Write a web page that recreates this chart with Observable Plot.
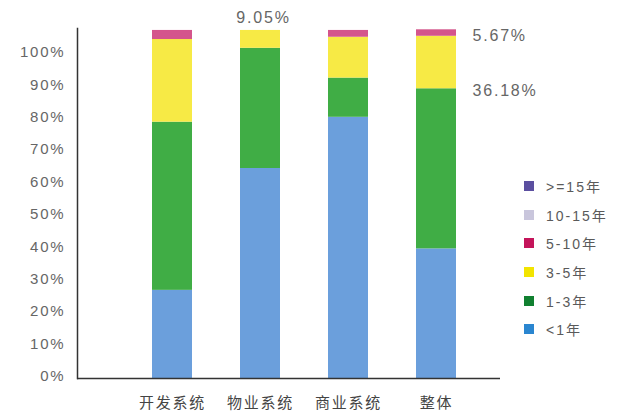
<!DOCTYPE html>
<html>
<head>
<meta charset="utf-8">
<script src="https://cdn.jsdelivr.net/npm/d3@7"></script>
<script src="https://cdn.jsdelivr.net/npm/@observablehq/plot@0.6"></script>
<style>
  body { margin: 0; background: #fff; }
  #wrap { position: relative; width: 631px; height: 418px; font-family: "Liberation Sans", "Noto Sans CJK SC", sans-serif; }
  #legend { position: absolute; left: 524px; top: 172px; color: #5a5a5a; font-size: 14px; letter-spacing: 2px; }
  #legend .item { display: flex; align-items: center; height: 28.6px; }
  #legend .sw { width: 10px; height: 10px; margin-right: 12px; }
</style>
</head>
<body>
<div id="wrap"></div>
<script>
const categories = ["开发系统", "物业系统", "商业系统", "整体"];
// stacked bottom to top
const seriesNames = ["<1年", "1-3年", "3-5年", "5-10年", "10-15年", ">=15年"];
const lessThan1 = [27.2, 64.8, 80.6, 40.0];
const y1to3 = [51.9, 37.1, 12.1, 49.4];
const y3to5 = [25.5, 5.5, 12.6, 16.2];
const y5to10 = [2.8, 0, 2.1, 2.0];
const y10to15 = [0, 0, 0, 0];
const ge15 = [0, 0, 0, 0];
const yTicks = [0, 10, 20, 30, 40, 50, 60, 70, 80, 90, 100];
const barColors = ["#6b9fdc", "#40ad45", "#f7ea45", "#d4558c", "#c9c6dc", "#5b4fa0"];
const legendColors = ["#2a86d0", "#118030", "#f2e400", "#c4145a", "#c9c6dc", "#5b4fa0"];
const annotations = [
  {category: "物业系统", upTo: 3, label: "9.05%", dx: 3, dy: -13, anchor: "middle"},
  {category: "整体", upTo: 2, label: "5.67%", dx: 36, dy: 0, anchor: "start"},
  {category: "整体", upTo: 1, label: "36.18%", dx: 36, dy: 2, anchor: "start"}
];

const seriesValues = [lessThan1, y1to3, y3to5, y5to10, y10to15, ge15];
const rows = [];
seriesNames.forEach((s, si) => {
  categories.forEach((c, ci) => rows.push({category: c, series: s, value: seriesValues[si][ci]}));
});
const annRows = annotations.map(a => {
  const ci = categories.indexOf(a.category);
  let top = 0;
  for (let si = 0; si <= a.upTo; si++) top += seriesValues[si][ci];
  return {...a, top};
});

const font = "'Liberation Sans', 'Noto Sans CJK SC', sans-serif";
const chart = Plot.plot({
  width: 631,
  height: 418,
  marginLeft: 77,
  marginRight: 131,
  marginTop: 28,
  marginBottom: 40,
  style: {fontFamily: font, color: "#555", background: "#fff", overflow: "visible"},
  x: {domain: categories, range: [106, 502], paddingInner: 0.55, paddingOuter: 0.5, axis: null},
  y: {domain: [0, 108], axis: null},
  color: {domain: seriesNames, range: barColors},
  marks: [
    Plot.barY(rows, {x: "category", y: "value", fill: "series", order: seriesNames}),
    Plot.axisY({ticks: yTicks, tickFormat: d => d + "%", tickSize: 0, tickPadding: 12, dy: -2, fontSize: 15, fill: "#666"}),
    Plot.axisX({tickSize: 0, tickPadding: 19, fontSize: 15, fill: "#444", label: null}),
    Plot.ruleY([0], {stroke: "#333", strokeWidth: 1.5}),
    Plot.frame({anchor: "left", stroke: "#333", strokeWidth: 1.5}),
    ...annRows.map(a => Plot.text([a], {x: "category", y: "top", text: "label", dx: a.dx, dy: a.dy, textAnchor: a.anchor, fontSize: 16, fill: "#666", clip: false}))
  ]
});
d3.select(chart).selectAll("text").style("letter-spacing", "1.8px");
document.getElementById("wrap").appendChild(chart);

const legend = document.createElement("div");
legend.id = "legend";
const order = seriesNames.map((s, i) => i).reverse();
order.forEach(i => {
  const item = document.createElement("div");
  item.className = "item";
  const sw = document.createElement("span");
  sw.className = "sw";
  sw.style.background = legendColors[i];
  const label = document.createElement("span");
  label.textContent = seriesNames[i];
  item.appendChild(sw);
  item.appendChild(label);
  legend.appendChild(item);
});
document.getElementById("wrap").appendChild(legend);
</script>
</body>
</html>
